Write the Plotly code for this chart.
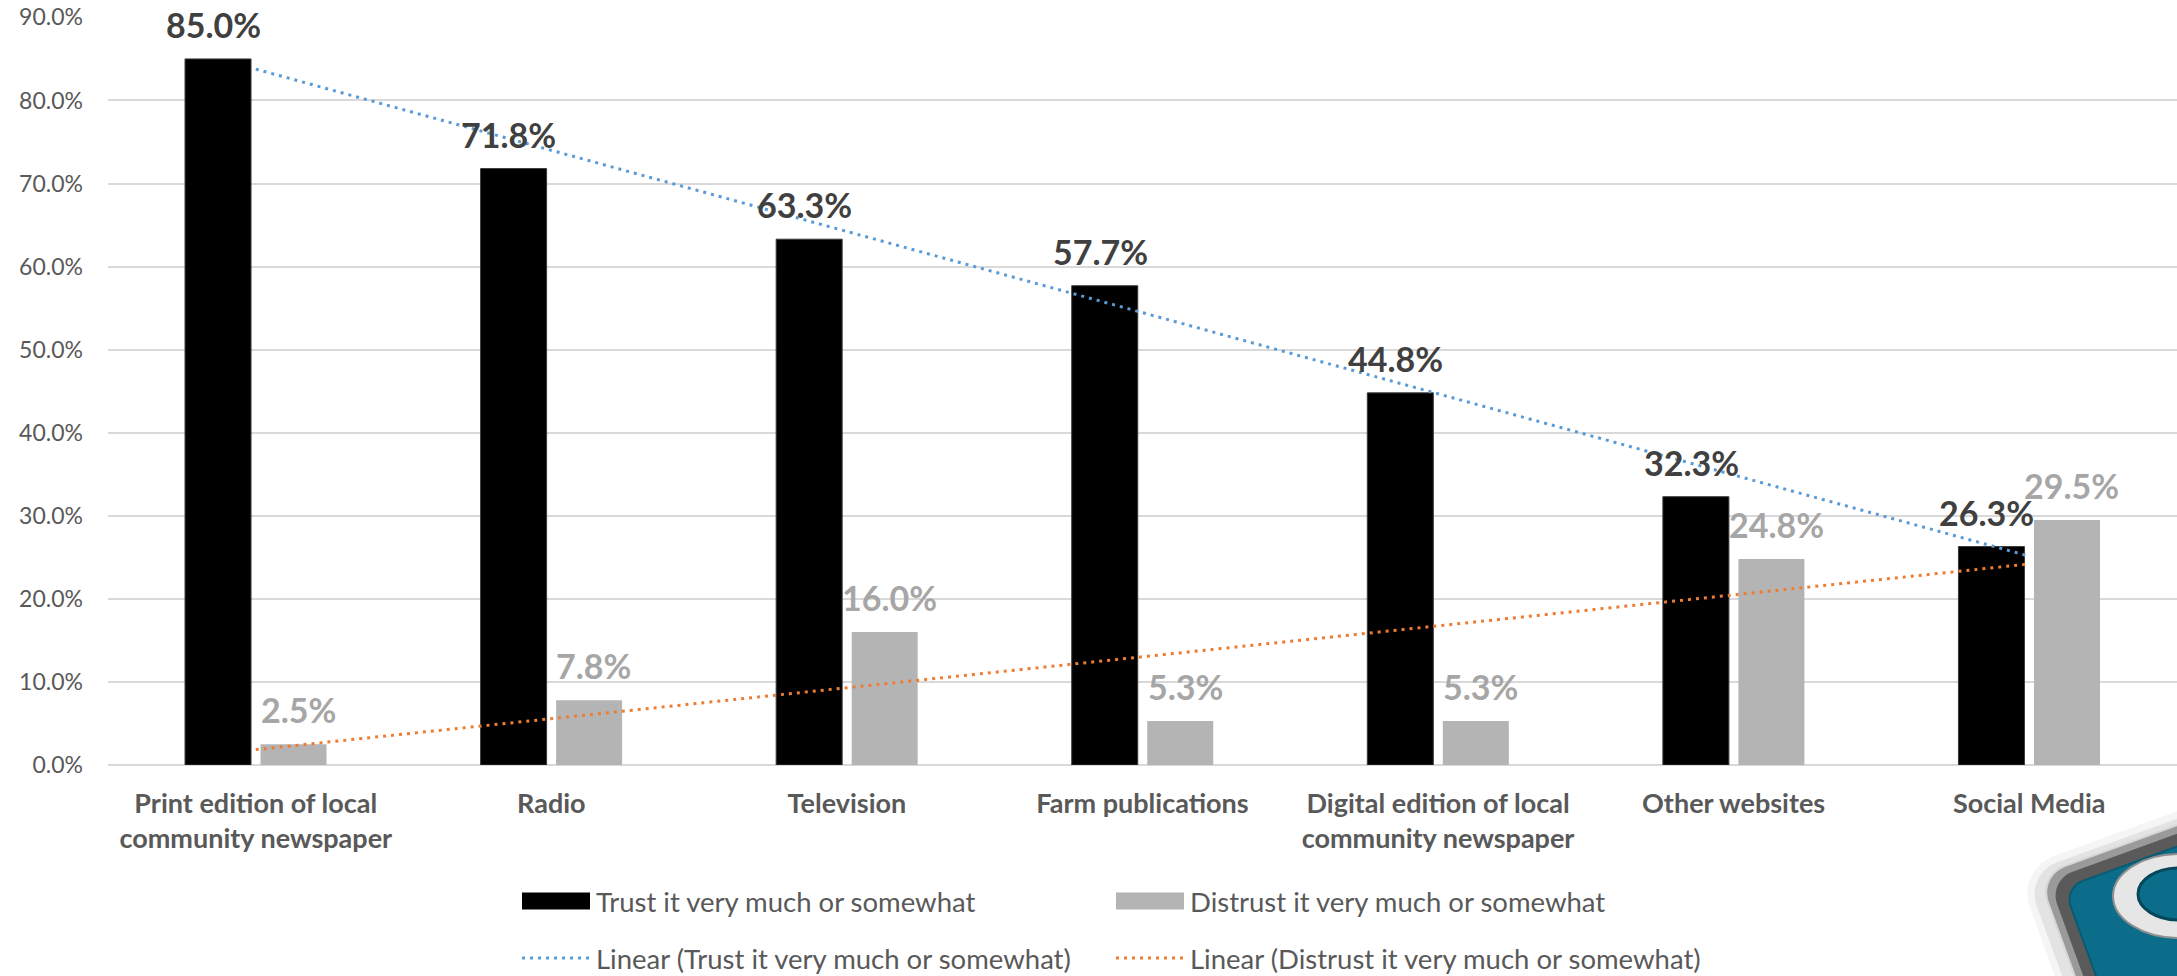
import numpy as np
import plotly.graph_objects as go

# ---------------- data ----------------
categories = [
    "Print edition of local community newspaper",
    "Radio",
    "Television",
    "Farm publications",
    "Digital edition of local community newspaper",
    "Other websites",
    "Social Media",
]
tick_labels = [
    "Print edition of local<br>community newspaper",
    "Radio",
    "Television",
    "Farm publications",
    "Digital edition of local<br>community newspaper",
    "Other websites",
    "Social Media",
]
trust = [85.0, 71.8, 63.3, 57.7, 44.8, 32.3, 26.3]
distrust = [2.5, 7.8, 16.0, 5.3, 5.3, 24.8, 29.5]
series_names = ["Trust it very much or somewhat", "Distrust it very much or somewhat"]
trend_names = ["Linear (Trust it very much or somewhat)",
               "Linear (Distrust it very much or somewhat)"]
y_ticks = [0, 10, 20, 30, 40, 50, 60, 70, 80, 90]
y_tick_labels = [f"{v:.1f}%" for v in y_ticks]

# ---------------- styling / geometry ----------------
W, H = 2177, 976
# plot area in page pixels: left 108, top 17, bottom 765, right 2177
ML, MT, MR = 108, 17, 0
MB = H - 765
FONT = "Lato"
C_TRUST = "#000000"
C_DISTRUST = "#B4B4B4"
C_TREND_T = "#5B9BD5"
C_TREND_D = "#ED7D31"
C_LAB_T = "#404040"
C_LAB_D = "#A6A6A6"
C_AXIS_TXT = "#595959"


def pxx(px):
    """page pixel x -> paper x"""
    return (px - ML) / (W - ML - MR)


def pxy(py):
    """page pixel y -> paper y"""
    return (H - MB - py) / (H - MT - MB)


# linear trend lines (least squares over category index)
idx = np.arange(1, len(categories) + 1)
fit_t = np.polyval(np.polyfit(idx, trust, 1), idx)
fit_d = np.polyval(np.polyfit(idx, distrust, 1), idx)

fig = go.Figure()
fig.add_trace(go.Bar(x=categories, y=trust, name=series_names[0],
                     marker=dict(color=C_TRUST, line=dict(color="#3a3a3a", width=1))))
fig.add_trace(go.Bar(x=categories, y=distrust, name=series_names[1],
                     marker=dict(color=C_DISTRUST, line=dict(width=0))))
fig.add_trace(go.Scatter(x=categories, y=fit_t, mode="lines", name=trend_names[0],
                         line=dict(color=C_TREND_T, width=3, dash="3px,5px")))
fig.add_trace(go.Scatter(x=categories, y=fit_d, mode="lines", name=trend_names[1],
                         line=dict(color=C_TREND_D, width=3, dash="3px,5px")))

annotations = []
for c, v in zip(categories, trust):
    annotations.append(dict(x=c, y=v, xref="x", yref="y", text=f"{v:.1f}%", showarrow=False,
                            xshift=-42.5, yshift=12, yanchor="bottom",
                            font=dict(family=FONT, size=34, color=C_LAB_T, weight="bold")))
for c, v in zip(categories, distrust):
    annotations.append(dict(x=c, y=v, xref="x", yref="y", text=f"{v:.1f}%", showarrow=False,
                            xshift=42.5, yshift=12, yanchor="bottom",
                            font=dict(family=FONT, size=34, color=C_LAB_D, weight="bold")))

shapes = []
# custom legend
leg_items = [
    (series_names[0], "rect", C_TRUST, 522, 901),
    (series_names[1], "rect", C_DISTRUST, 1116, 901),
    (trend_names[0], "line", C_TREND_T, 522, 958),
    (trend_names[1], "line", C_TREND_D, 1116, 958),
]
for name, kind, col, x0, yc in leg_items:
    if kind == "rect":
        shapes.append(dict(type="rect", xref="paper", yref="paper",
                           x0=pxx(x0), x1=pxx(x0 + 68), y0=pxy(yc - 8.5), y1=pxy(yc + 8.5),
                           fillcolor=col, line=dict(width=0)))
    else:
        shapes.append(dict(type="line", xref="paper", yref="paper",
                           x0=pxx(x0), x1=pxx(x0 + 68), y0=pxy(yc), y1=pxy(yc),
                           line=dict(color=col, width=3, dash="3px,5px")))
    annotations.append(dict(x=pxx(x0 + 72), y=pxy(yc), xref="paper", yref="paper",
                            text=name, showarrow=False, xanchor="left", yanchor="middle",
                            font=dict(family=FONT, size=27.5, color=C_AXIS_TXT)))


# decorative icon in the bottom-right corner
def rounded_square_path(cx, cy, half, r, ang_deg, n=10):
    phi = np.deg2rad(ang_deg)
    pts = []
    corners = [(half - r, -(half - r), -90), (half - r, half - r, 0),
               (-(half - r), half - r, 90), (-(half - r), -(half - r), 180)]
    for (ax, ay, a0) in corners:
        for k in range(n + 1):
            t = np.deg2rad(a0 + 90 * k / n)
            pts.append((ax + r * np.cos(t), ay + r * np.sin(t)))
    out = []
    for (a, b) in pts:
        x = cx + a * np.cos(phi) - b * np.sin(phi)
        y = cy + a * np.sin(phi) + b * np.cos(phi)
        out.append(f"{pxx(x):.5f},{pxy(y):.5f}")
    return "M " + " L ".join(out) + " Z"


icx, icy = 2219, 960
for hh, rr, col in [(156, 40, "rgba(0,0,0,0.04)"), (149, 34, "rgba(0,0,0,0.07)")]:
    shapes.append(dict(type="path", xref="paper", yref="paper", layer="above",
                       path=rounded_square_path(icx - 3, icy + 3, hh, rr, -20),
                       fillcolor=col, line=dict(width=0)))
shapes.append(dict(type="path", xref="paper", yref="paper", layer="above",
                   path=rounded_square_path(icx, icy, 141, 28, -20),
                   fillcolor="#9a9a9a", line=dict(color="#d6d6d6", width=2)))
shapes.append(dict(type="path", xref="paper", yref="paper", layer="above",
                   path=rounded_square_path(icx, icy, 133, 25, -20),
                   fillcolor="#5a5a5a", line=dict(width=0)))
shapes.append(dict(type="path", xref="paper", yref="paper", layer="above",
                   path=rounded_square_path(icx, icy, 121, 20, -20),
                   fillcolor="#0b6d8a", line=dict(color="#0a5a72", width=2)))
shapes.append(dict(type="circle", xref="paper", yref="paper", layer="above",
                   x0=pxx(2113), x1=pxx(2245), y0=pxy(938), y1=pxy(854),
                   fillcolor="#e6e6e6", line=dict(color="#8f8f8f", width=2)))
shapes.append(dict(type="circle", xref="paper", yref="paper", layer="above",
                   x0=pxx(2138), x1=pxx(2220), y0=pxy(920), y1=pxy(868),
                   fillcolor="#0b6d8a", line=dict(color="#06475a", width=3)))

fig.update_layout(
    width=W, height=H,
    margin=dict(l=ML, r=MR, t=MT, b=MB, pad=0, autoexpand=False),
    paper_bgcolor="white", plot_bgcolor="white",
    barmode="group", bargap=0.489, bargroupgap=0.126,
    showlegend=False,
    hovermode=False,
    font=dict(family=FONT, color=C_AXIS_TXT),
    annotations=annotations,
    shapes=shapes,
    xaxis=dict(type="category", tickvals=categories, ticktext=tick_labels,
               showgrid=False, showline=False, ticks="", automargin=False,
               tickfont=dict(family=FONT, size=27, color=C_AXIS_TXT, weight="bold"),
               ticklabelstandoff=20),
    yaxis=dict(range=[0, 90.05], tickvals=y_ticks, ticktext=y_tick_labels,
               showgrid=True, gridcolor="#D9D9D9", gridwidth=2,
               zeroline=True, zerolinecolor="#D9D9D9", zerolinewidth=2,
               showline=False, ticks="", automargin=False,
               tickfont=dict(family=FONT, size=23, color=C_AXIS_TXT),
               ticklabelstandoff=24),
)

# remove the browser's default 8px body margin so the figure fills the window exactly
fig.write_html("out.html",
               config={"displayModeBar": False},
               post_script="document.body.style.margin='0';document.body.style.overflow='hidden';")
